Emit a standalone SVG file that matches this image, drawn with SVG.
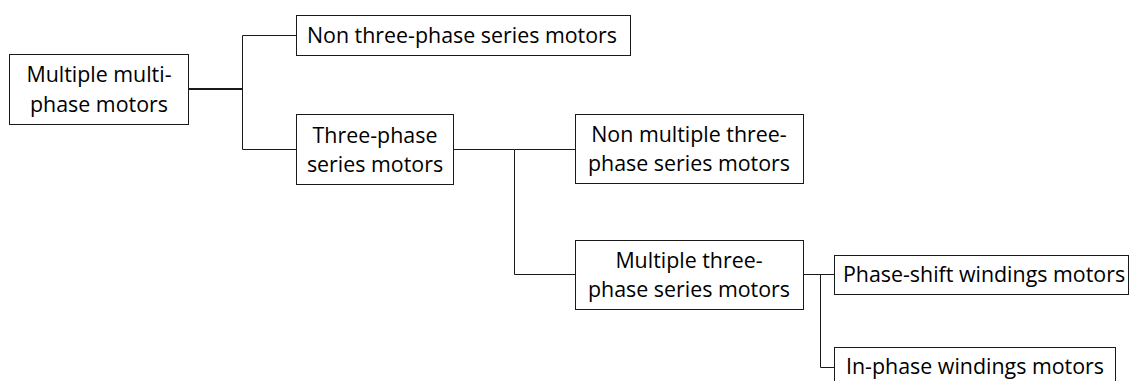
<svg xmlns="http://www.w3.org/2000/svg" width="1132" height="381" viewBox="0 0 1132 381">
<style>
.box{fill:#fff;stroke:#1a1a1a;stroke-width:1}
.t{font-family:"Open Sans","Noto Sans",sans-serif;font-size:21.4px;fill:#000;text-anchor:middle}
.c{fill:none;stroke:#1a1a1a;stroke-width:1}
</style>
<rect width="1132" height="381" fill="#fff"/>
<g id="connectors">
<path class="c" style="stroke-width:1.8" d="M188.5 89H242.5"/>
<path class="c" d="M242.5 35.5V149.5M242.5 35.5H296.5M242.5 149.5H296.5"/>
<path class="c" d="M453.5 149.5H514.5M514.5 149.5V274.5M514.5 149.5H575.5M514.5 274.5H575.5"/>
<path class="c" d="M803.5 274.5H834.5M820.5 274.5V367.5H834.5"/>
</g>
<g id="n1"><rect class="box" x="9.5" y="54.5" width="179" height="70"/>
<text class="t" x="99" y="82">Multiple multi-</text><text class="t" x="99" y="112">phase motors</text></g>
<g id="n2"><rect class="box" x="296.5" y="15.5" width="334" height="40"/>
<text class="t" x="462" y="43">Non three-phase series motors</text></g>
<g id="n3"><rect class="box" x="296.5" y="114.5" width="157" height="70"/>
<text class="t" x="375" y="143">Three-phase</text><text class="t" x="375" y="172">series motors</text></g>
<g id="n4"><rect class="box" x="575.5" y="114.5" width="228" height="69"/>
<text class="t" x="689" y="142">Non multiple three-</text><text class="t" x="689" y="171">phase series motors</text></g>
<g id="n5"><rect class="box" x="575.5" y="240.5" width="228" height="69"/>
<text class="t" x="689" y="268">Multiple three-</text><text class="t" x="689" y="297">phase series motors</text></g>
<g id="n6"><rect class="box" x="834.5" y="255.5" width="294" height="39"/>
<text class="t" x="984" y="282">Phase-shift windings motors</text></g>
<g id="n7"><rect class="box" x="834.5" y="347.5" width="281" height="39"/>
<text class="t" x="975" y="374">In-phase windings motors</text></g>
</svg>
